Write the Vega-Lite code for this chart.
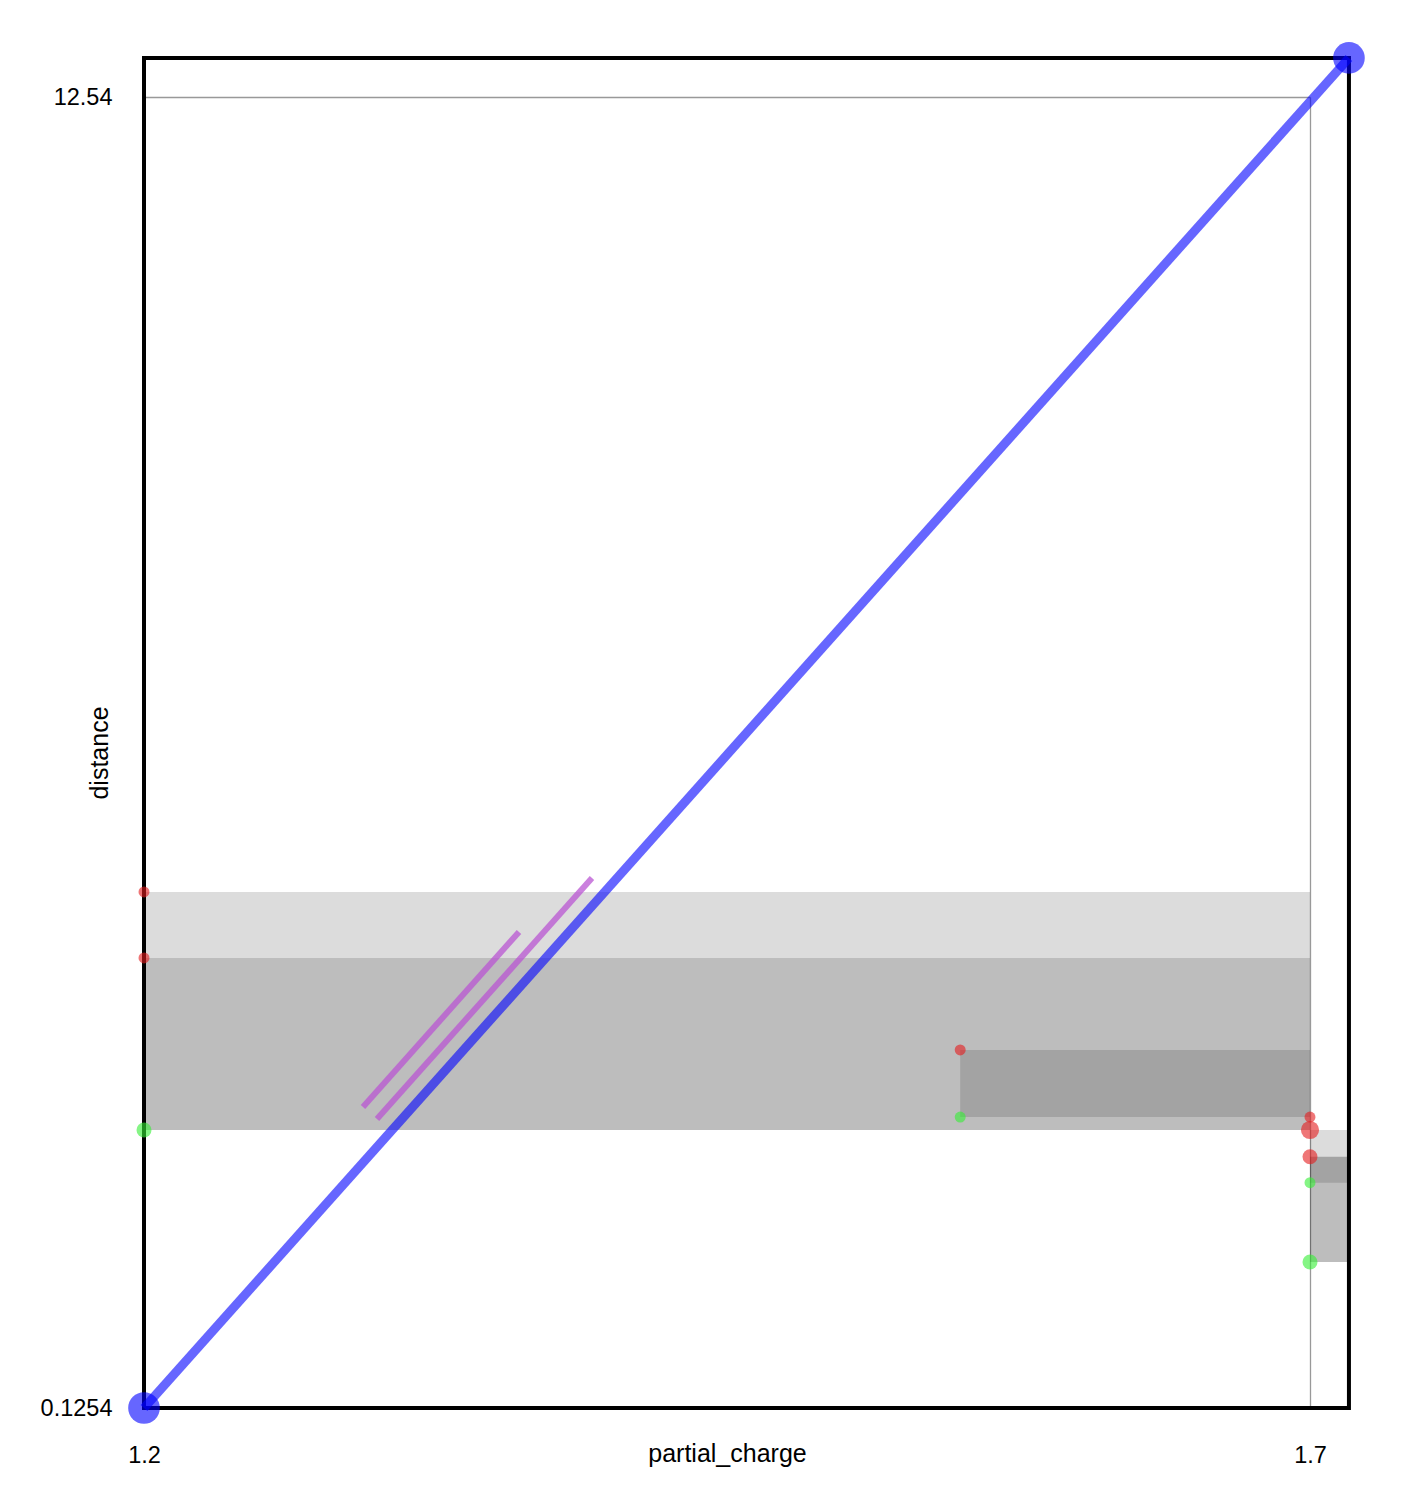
{
  "$schema": "https://vega.github.io/schema/vega-lite/v6.json",
  "width": 1166,
  "height": 1311,
  "autosize": {"type": "none"},
  "padding": {"left": 144, "top": 97, "right": 100, "bottom": 98},
  "background": "white",
  "config": {
    "view": {"stroke": null},
    "font": "Liberation Sans",
    "axis": {
      "grid": true,
      "gridColor": "#999999",
      "gridWidth": 1.3,
      "domain": false,
      "ticks": false,
      "labelFontSize": 23.5,
      "labelColor": "black",
      "labelFlush": false,
      "labelOverlap": false,
      "labelBound": false,
      "titleFontSize": 25,
      "titleFontWeight": "normal",
      "titleColor": "black",
      "format": ".4~g"
    }
  },
  "datasets": {
    "rects": [
      {"x": 1.2, "x2": 1.7, "y": 2.758, "y2": 5.012},
      {"x": 1.2, "x2": 1.7, "y": 2.758, "y2": 4.387},
      {"x": 1.55, "x2": 1.7, "y": 2.881, "y2": 3.516},
      {"x": 1.7, "x2": 1.7167, "y": 1.508, "y2": 2.758},
      {"x": 1.7, "x2": 1.7167, "y": 1.508, "y2": 2.505},
      {"x": 1.7, "x2": 1.7167, "y": 2.259, "y2": 2.505}
    ],
    "frame": [{"x": 1.2, "x2": 1.7167, "y": 0.1254, "y2": 12.91}],
    "segments": [
      {"seg": "a", "x": 1.2939, "y": 2.976},
      {"seg": "a", "x": 1.3608, "y": 4.633},
      {"seg": "b", "x": 1.2999, "y": 2.862},
      {"seg": "b", "x": 1.3921, "y": 5.144}
    ],
    "diag": [
      {"x": 1.2, "y": 0.1254},
      {"x": 1.7167, "y": 12.91}
    ],
    "points": [
      {"x": 1.2, "y": 5.012, "end": "upper", "n": 1},
      {"x": 1.2, "y": 4.387, "end": "upper", "n": 1},
      {"x": 1.2, "y": 2.758, "end": "lower", "n": 2},
      {"x": 1.55, "y": 3.516, "end": "upper", "n": 1},
      {"x": 1.55, "y": 2.881, "end": "lower", "n": 1},
      {"x": 1.7, "y": 2.881, "end": "upper", "n": 1},
      {"x": 1.7, "y": 2.758, "end": "upper", "n": 3},
      {"x": 1.7, "y": 2.505, "end": "upper", "n": 2},
      {"x": 1.7, "y": 2.259, "end": "lower", "n": 1},
      {"x": 1.7, "y": 1.508, "end": "lower", "n": 2}
    ]
  },
  "encoding": {
    "x": {
      "field": "x",
      "type": "quantitative",
      "scale": {"domain": [1.2, 1.7], "nice": false, "zero": false},
      "axis": {
        "title": "partial_charge",
        "values": [1.2, 1.7],
        "labelPadding": 35,
        "titleBaseline": "alphabetic",
        "titleY": 53
      }
    },
    "y": {
      "field": "y",
      "type": "quantitative",
      "scale": {"domain": [0.1254, 12.54], "nice": false, "zero": false},
      "axis": {
        "title": "distance",
        "values": [0.1254, 12.54],
        "labelPadding": 32,
        "titleBaseline": "alphabetic",
        "titleAngle": -90,
        "titleX": -37,
        "titleY": 655.5
      }
    }
  },
  "layer": [
    {
      "data": {"name": "rects"},
      "mark": {"type": "rect", "color": "black", "opacity": 0.137, "clip": false},
      "encoding": {"x2": {"field": "x2"}, "y2": {"field": "y2"}}
    },
    {
      "data": {"name": "frame"},
      "mark": {"type": "rect", "fill": null, "filled": false, "stroke": "black", "strokeWidth": 4, "clip": false},
      "encoding": {"x2": {"field": "x2"}, "y2": {"field": "y2"}}
    },
    {
      "data": {"name": "segments"},
      "mark": {"type": "line", "color": "mediumorchid", "opacity": 0.75, "strokeWidth": 6, "clip": false},
      "encoding": {"detail": {"field": "seg"}}
    },
    {
      "data": {"name": "diag"},
      "mark": {"type": "line", "color": "blue", "opacity": 0.6, "strokeWidth": 9, "clip": false},
      "encoding": {}
    },
    {
      "data": {"name": "diag"},
      "mark": {"type": "point", "shape": "circle", "filled": true, "color": "blue", "opacity": 0.6, "size": 1000, "clip": false},
      "encoding": {}
    },
    {
      "data": {"name": "points"},
      "mark": {"type": "point", "shape": "circle", "filled": true, "opacity": 0.6, "strokeWidth": 0, "clip": false},
      "encoding": {
        "color": {"field": "end", "type": "nominal", "scale": {"domain": ["upper", "lower"], "range": ["#e41a1c", "#33ee33"]}, "legend": null},
        "size": {"field": "n", "type": "quantitative", "scale": {"domain": [1, 3], "range": [120, 330], "zero": false}, "legend": null}
      }
    }
  ]
}
